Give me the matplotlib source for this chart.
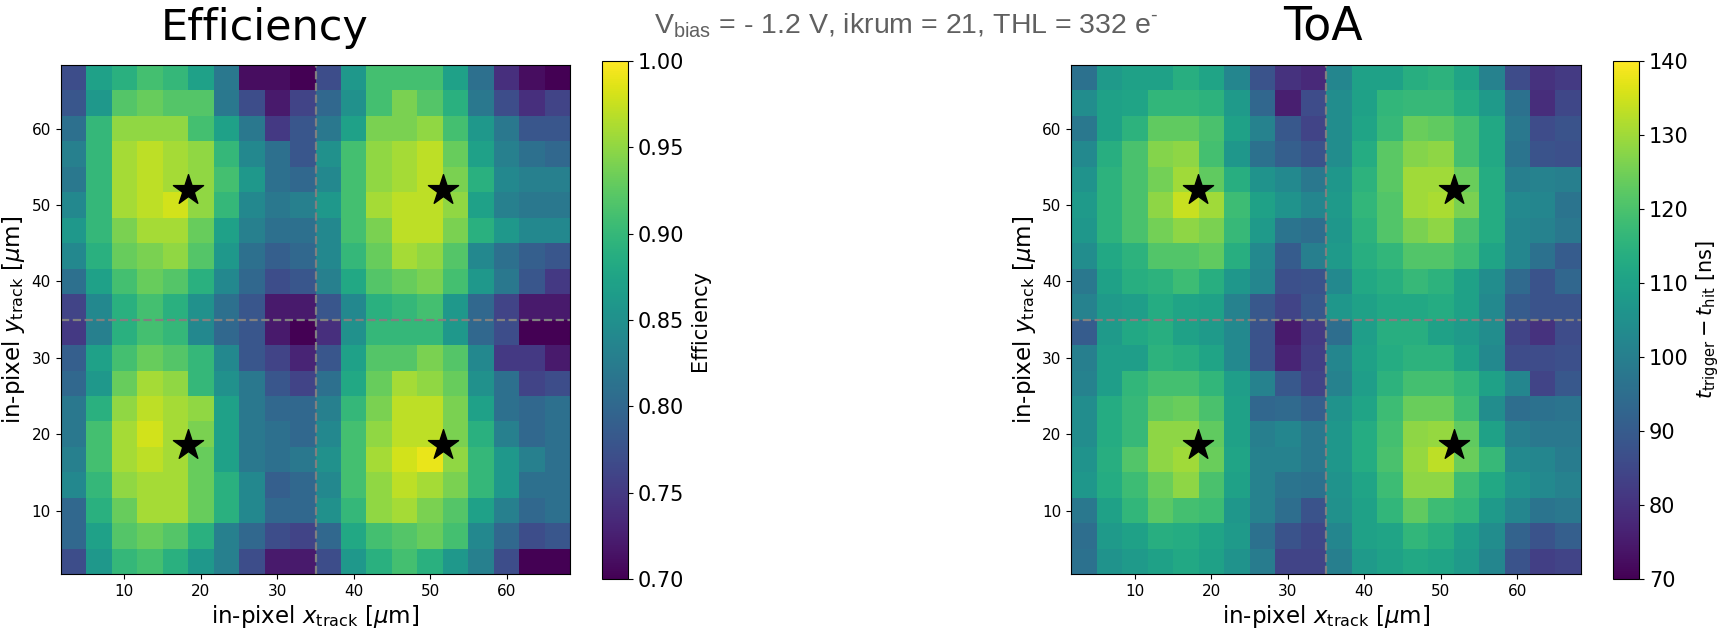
import numpy as np
import matplotlib
matplotlib.use("Agg")
import matplotlib.pyplot as plt

plt.rcParams["mathtext.fontset"] = "dejavusans"
plt.rcParams["mathtext.rm"] = "Liberation Sans"

# in-pixel bin edges (20 x 20 bins), in um
x_edges = np.linspace(5 / 3, 205 / 3, 21)
y_edges = np.linspace(5 / 3, 205 / 3, 21)

# rows listed from the top (largest y) down to the bottom
efficiency = [
    [0.77, 0.87, 0.89, 0.91, 0.90, 0.87, 0.82, 0.71, 0.71, 0.70, 0.77, 0.86, 0.91, 0.91, 0.91, 0.87, 0.81, 0.74, 0.71, 0.70],
    [0.78, 0.86, 0.92, 0.93, 0.92, 0.92, 0.82, 0.77, 0.72, 0.76, 0.80, 0.85, 0.91, 0.94, 0.92, 0.89, 0.82, 0.77, 0.74, 0.76],
    [0.81, 0.90, 0.95, 0.95, 0.95, 0.91, 0.87, 0.82, 0.75, 0.78, 0.82, 0.87, 0.94, 0.94, 0.95, 0.91, 0.86, 0.82, 0.78, 0.78],
    [0.83, 0.90, 0.96, 0.97, 0.96, 0.95, 0.90, 0.84, 0.81, 0.78, 0.85, 0.91, 0.95, 0.96, 0.97, 0.93, 0.87, 0.83, 0.81, 0.80],
    [0.82, 0.90, 0.96, 0.97, 0.96, 0.95, 0.91, 0.86, 0.81, 0.80, 0.84, 0.91, 0.95, 0.96, 0.97, 0.94, 0.89, 0.84, 0.83, 0.83],
    [0.84, 0.90, 0.96, 0.97, 0.98, 0.95, 0.90, 0.84, 0.82, 0.83, 0.86, 0.91, 0.96, 0.97, 0.97, 0.95, 0.87, 0.83, 0.82, 0.82],
    [0.86, 0.90, 0.94, 0.96, 0.96, 0.93, 0.87, 0.83, 0.81, 0.81, 0.84, 0.91, 0.94, 0.97, 0.97, 0.94, 0.89, 0.86, 0.84, 0.84],
    [0.84, 0.89, 0.93, 0.94, 0.95, 0.92, 0.86, 0.81, 0.79, 0.80, 0.84, 0.90, 0.93, 0.96, 0.95, 0.92, 0.84, 0.81, 0.79, 0.78],
    [0.81, 0.87, 0.91, 0.93, 0.92, 0.89, 0.84, 0.80, 0.77, 0.78, 0.83, 0.88, 0.92, 0.93, 0.94, 0.91, 0.86, 0.82, 0.78, 0.75],
    [0.76, 0.84, 0.89, 0.91, 0.89, 0.85, 0.81, 0.78, 0.72, 0.72, 0.78, 0.84, 0.89, 0.90, 0.91, 0.86, 0.80, 0.76, 0.72, 0.72],
    [0.75, 0.83, 0.89, 0.91, 0.90, 0.84, 0.80, 0.78, 0.72, 0.70, 0.74, 0.85, 0.90, 0.90, 0.90, 0.86, 0.80, 0.77, 0.70, 0.70],
    [0.79, 0.87, 0.91, 0.93, 0.92, 0.90, 0.84, 0.78, 0.76, 0.73, 0.78, 0.87, 0.92, 0.92, 0.94, 0.92, 0.84, 0.75, 0.75, 0.72],
    [0.80, 0.86, 0.93, 0.96, 0.95, 0.90, 0.85, 0.82, 0.78, 0.76, 0.81, 0.88, 0.93, 0.96, 0.95, 0.93, 0.85, 0.81, 0.76, 0.77],
    [0.82, 0.89, 0.95, 0.97, 0.96, 0.95, 0.87, 0.82, 0.80, 0.80, 0.83, 0.90, 0.94, 0.97, 0.97, 0.94, 0.87, 0.81, 0.80, 0.81],
    [0.82, 0.91, 0.96, 0.98, 0.96, 0.94, 0.87, 0.82, 0.81, 0.80, 0.84, 0.91, 0.95, 0.97, 0.97, 0.94, 0.89, 0.83, 0.80, 0.81],
    [0.83, 0.91, 0.96, 0.97, 0.96, 0.93, 0.87, 0.82, 0.81, 0.82, 0.85, 0.91, 0.96, 0.98, 0.99, 0.95, 0.90, 0.86, 0.83, 0.81],
    [0.84, 0.90, 0.95, 0.96, 0.96, 0.93, 0.89, 0.84, 0.79, 0.80, 0.84, 0.91, 0.95, 0.97, 0.96, 0.94, 0.90, 0.86, 0.81, 0.81],
    [0.80, 0.89, 0.93, 0.96, 0.96, 0.93, 0.89, 0.84, 0.80, 0.80, 0.85, 0.90, 0.95, 0.96, 0.94, 0.92, 0.87, 0.83, 0.80, 0.81],
    [0.80, 0.87, 0.92, 0.93, 0.92, 0.89, 0.83, 0.80, 0.77, 0.76, 0.80, 0.88, 0.91, 0.92, 0.93, 0.91, 0.84, 0.80, 0.77, 0.78],
    [0.77, 0.86, 0.90, 0.91, 0.89, 0.86, 0.83, 0.77, 0.72, 0.72, 0.77, 0.86, 0.89, 0.91, 0.89, 0.86, 0.83, 0.77, 0.70, 0.70],
]

toa = [
    [96, 108, 110, 110, 114, 111, 102, 88, 80, 78, 102, 110, 110, 114, 115, 111, 101, 86, 80, 82],
    [104, 110, 111, 116, 116, 115, 108, 93, 76, 86, 104, 110, 116, 117, 117, 113, 108, 96, 79, 85],
    [98, 110, 115, 123, 123, 120, 110, 101, 89, 84, 104, 111, 117, 124, 123, 119, 112, 98, 86, 88],
    [103, 114, 120, 127, 128, 119, 107, 96, 91, 88, 104, 113, 122, 127, 128, 119, 112, 97, 88, 87],
    [106, 115, 120, 125, 130, 123, 114, 106, 103, 98, 107, 115, 122, 130, 130, 124, 113, 100, 101, 100],
    [108, 115, 120, 128, 134, 130, 118, 110, 106, 102, 108, 116, 121, 130, 131, 126, 113, 103, 102, 97],
    [107, 115, 120, 125, 128, 126, 117, 108, 97, 95, 107, 115, 121, 126, 128, 120, 113, 102, 101, 98],
    [104, 112, 115, 121, 121, 123, 114, 103, 90, 100, 108, 114, 116, 121, 121, 118, 111, 102, 96, 90],
    [98, 110, 114, 115, 118, 114, 107, 102, 87, 88, 103, 112, 114, 117, 115, 110, 104, 94, 88, 93],
    [101, 108, 109, 113, 111, 110, 101, 89, 84, 89, 107, 110, 112, 112, 113, 110, 103, 90, 88, 88],
    [90, 108, 112, 114, 110, 108, 103, 88, 75, 82, 95, 109, 114, 114, 110, 108, 104, 84, 80, 86],
    [100, 109, 109, 115, 114, 111, 103, 88, 77, 83, 102, 110, 113, 115, 115, 110, 103, 86, 86, 87],
    [101, 109, 116, 119, 119, 116, 109, 101, 89, 84, 101, 109, 115, 119, 119, 116, 110, 102, 84, 89],
    [104, 113, 117, 123, 124, 120, 110, 93, 94, 91, 106, 111, 118, 124, 124, 118, 104, 95, 96, 97],
    [104, 113, 117, 128, 128, 123, 110, 100, 102, 98, 107, 113, 119, 128, 129, 123, 110, 100, 98, 98],
    [106, 114, 121, 128, 130, 124, 111, 101, 101, 98, 107, 113, 120, 129, 133, 124, 117, 103, 102, 99],
    [107, 113, 118, 124, 128, 120, 110, 101, 97, 96, 106, 111, 118, 128, 128, 118, 112, 106, 103, 101],
    [98, 110, 116, 122, 119, 118, 107, 101, 95, 88, 105, 110, 116, 123, 118, 116, 108, 102, 97, 98],
    [95, 108, 110, 114, 113, 111, 108, 96, 88, 85, 102, 110, 111, 116, 114, 109, 104, 92, 88, 91],
    [96, 106, 108, 110, 112, 110, 106, 99, 84, 84, 100, 108, 110, 112, 111, 108, 102, 88, 83, 84],
]

# pixel centres marked with stars
star_x = [18.3, 51.7, 18.3, 51.7]
star_y = [52.0, 52.0, 18.6, 18.6]

eff_ticks = [0.70, 0.75, 0.80, 0.85, 0.90, 0.95, 1.00]
toa_ticks = [70, 80, 90, 100, 110, 120, 130, 140]


def draw_map(ax, cax, values, vmin, vmax, ticks, cbar_label, fmt):
    grid = np.array(values, dtype=float)[::-1]
    mesh = ax.pcolormesh(x_edges, y_edges, grid, cmap="viridis", vmin=vmin, vmax=vmax)
    ax.axvline(35, color="gray", ls="--", lw=1.6)
    ax.axhline(35, color="gray", ls="--", lw=1.6)
    ax.scatter(star_x, star_y, marker="*", s=520, color="black", zorder=3)
    ax.set_xlim(x_edges[0], x_edges[-1])
    ax.set_ylim(y_edges[0], y_edges[-1])
    ax.set_xticks([10, 20, 30, 40, 50, 60])
    ax.set_yticks([10, 20, 30, 40, 50, 60])
    ax.tick_params(labelsize=11)
    ax.set_xlabel(r"in-pixel $x_\mathrm{track}$ [$\mu$m]", fontsize=16.5, labelpad=3)
    ax.set_ylabel(r"in-pixel $y_\mathrm{track}$ [$\mu$m]", fontsize=16.5, labelpad=3)
    cb = plt.colorbar(mesh, cax=cax)
    cb.set_ticks(ticks)
    cb.set_ticklabels([fmt.format(t) for t in ticks])
    cb.ax.tick_params(labelsize=15)
    cb.set_label(cbar_label, fontsize=15)
    return cb


fig = plt.figure(figsize=(17.19, 6.29), dpi=100)
ax1 = fig.add_axes([0.0353, 0.087, 0.2965, 0.8097])
cax1 = fig.add_axes([0.3502, 0.079, 0.0151, 0.8245])
ax2 = fig.add_axes([0.6232, 0.087, 0.2965, 0.8097])
cax2 = fig.add_axes([0.9382, 0.079, 0.0153, 0.8245])

draw_map(ax1, cax1, efficiency, 0.70, 1.00, eff_ticks, "Efficiency", "{:.2f}")
draw_map(ax2, cax2, toa, 70, 140, toa_ticks,
         r"$t_\mathrm{trigger} - t_\mathrm{hit}$ [ns]", "{:d}")

fig.text(0.154, 0.937, "Efficiency", fontsize=31, ha="center", va="baseline")
fig.text(0.7697, 0.937, "ToA", fontsize=33, ha="center", va="baseline")
fig.text(0.527, 0.9475,
         r"V$_\mathrm{bias}$ = - 1.2 V, ikrum = 21, THL = 332 e$^\text{-}$",
         fontsize=20.5, ha="center", va="baseline", color="#606060",
         family="Liberation Sans", math_fontfamily="custom")

fig.savefig("out.png", dpi=100)
